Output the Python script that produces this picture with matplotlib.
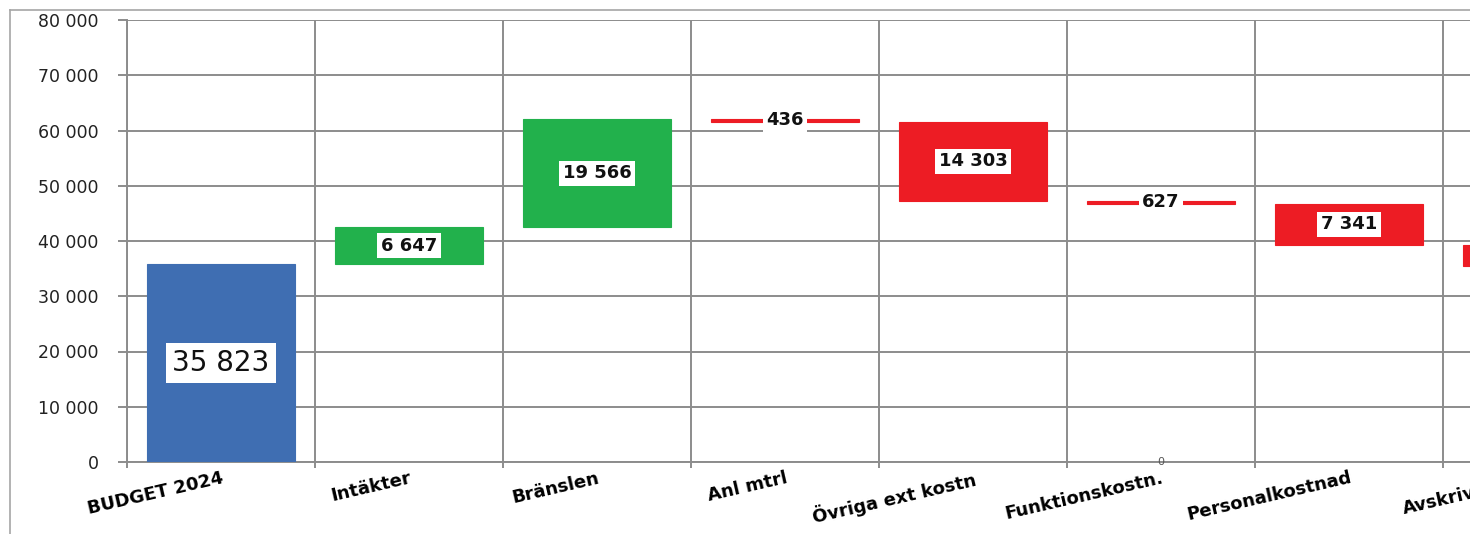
import matplotlib.pyplot as plt
import numpy as np
from matplotlib.lines import Line2D
from matplotlib.ticker import FuncFormatter

# waterfall data (kSEK)
categories = ["BUDGET 2024", "Intäkter", "Bränslen", "Anl mtrl",
              "Övriga ext kostn", "Funktionskostn.", "Personalkostnad",
              "Avskrivningar"]
changes = [35823, 6647, 19566, -436, -14303, -627, -7341, -3800]
value_labels = ["35 823", "6 647", "19 566", "436", "14 303", "627", "7 341", "3 800"]
yticks = [0, 10000, 20000, 30000, 40000, 50000, 60000, 70000, 80000]

blue = "#3F6EB2"
green = "#22B14C"
red = "#ED1C24"
grid_col = "#8C8C8C"

#%%
# bottoms and heights of the floating bars
changes = np.array(changes)
ends = np.cumsum(changes)
starts = ends - changes
bottoms = np.minimum(starts, ends)
heights = np.abs(changes)
heights[0] = changes[0]
bottoms[0] = 0
colors = [blue] + [green if c > 0 else red for c in changes[1:]]

W, H = 1470, 534
fig = plt.figure(figsize=(W / 100, H / 100), dpi=100)
fig.patch.set_facecolor("white")

# axes runs past the right edge (chart is cropped)
n_slots = 9
ax = fig.add_axes([127 / W, (H - 462) / H, n_slots * 188 / W, 442 / H])
x = np.arange(len(categories))
ax.bar(x, heights, bottom=bottoms, width=0.79, color=colors,
       edgecolor=colors, linewidth=0.8, zorder=3)

ax.set_xlim(-0.5, n_slots - 0.5)
ax.set_ylim(0, 80000)

# gridlines
ax.set_yticks(yticks)
ax.yaxis.set_major_formatter(FuncFormatter(lambda v, p: f"{int(v):,}".replace(",", " ")))
ax.set_xticks(np.arange(-0.5, n_slots, 1.0), minor=True)
ax.grid(axis="y", which="major", color=grid_col, lw=1.4, zorder=0)
ax.grid(axis="x", which="minor", color=grid_col, lw=1.4, zorder=0)
ax.set_xticks(x)
ax.set_xticklabels(categories, rotation=13, ha="right", rotation_mode="anchor",
                   fontsize=13, fontweight="bold", family="DejaVu Sans")
ax.tick_params(axis="x", which="major", length=0, pad=5)
ax.tick_params(axis="x", which="minor", length=4, width=1.4, color=grid_col, direction="out")
ax.tick_params(axis="y", length=6.5, width=1.4, color=grid_col, pad=14,
               labelsize=12.5, labelcolor="#222222")
for s in ["top", "right"]:
    ax.spines[s].set_visible(False)
for s in ["left", "bottom"]:
    ax.spines[s].set_color(grid_col)
    ax.spines[s].set_linewidth(1.4)

# value labels
for i, (b, h, lab) in enumerate(zip(bottoms, heights, value_labels)):
    if i == 0:
        ax.text(i, b + h / 2, lab, ha="center", va="center", fontsize=20,
                family="DejaVu Sans", color="#111111", zorder=5,
                bbox=dict(boxstyle="square,pad=0.22", fc="white", ec="none"))
    elif i < len(categories) - 1:
        ax.text(i, b + h / 2, lab, ha="center", va="center", fontsize=13,
                fontweight="bold", family="DejaVu Sans", color="#111111", zorder=5,
                bbox=dict(boxstyle="square,pad=0.2", fc="white", ec="none"))

# small zero marker on the axis
ax.text(5, 0, "0", ha="center", va="center", fontsize=8, color="#555555",
        zorder=5, clip_on=False)

# chart-area border (cropped)
fig.add_artist(Line2D([10 / W, 1.0], [1 - 10 / H, 1 - 10 / H], transform=fig.transFigure,
                      color="#A6A6A6", lw=1.2))
fig.add_artist(Line2D([10 / W, 10 / W], [0.0, 1 - 10 / H], transform=fig.transFigure,
                      color="#A6A6A6", lw=1.2))

fig.savefig("out.png", dpi=100)
